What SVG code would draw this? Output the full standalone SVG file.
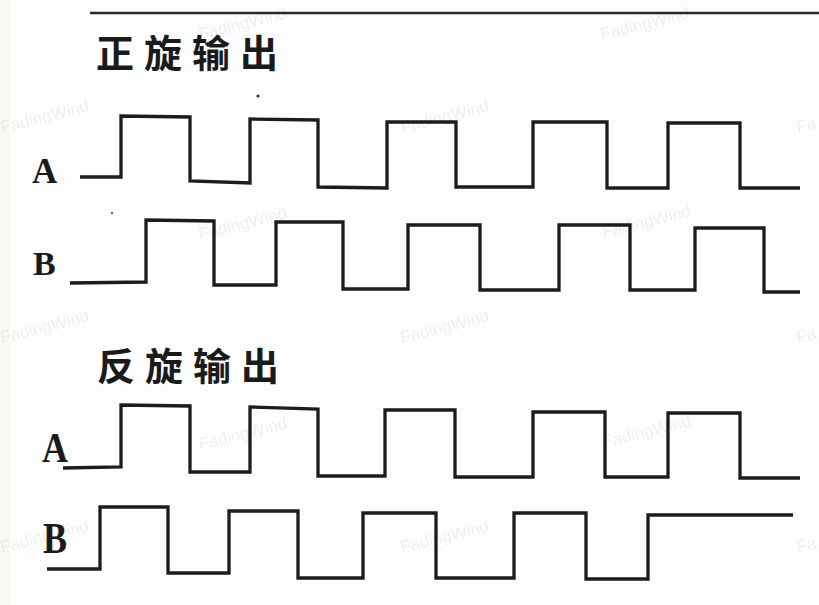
<svg xmlns="http://www.w3.org/2000/svg" width="819" height="605" viewBox="0 0 819 605">
<style>
.wave{fill:none;stroke:#1c1c1c;stroke-width:3.3;stroke-linejoin:miter;stroke-linecap:butt}
.title{font-family:"Noto Sans CJK SC","Noto Sans CJK JP",sans-serif;font-weight:700;font-size:38px;letter-spacing:10px;fill:#1a1a1a}
.lbl{font-family:"Liberation Serif",serif;font-weight:700;fill:#1a1a1a}
.wm{font-family:"Liberation Sans",sans-serif;font-size:17px;fill:#000;fill-opacity:0.07}
</style>
<rect x="0" y="0" width="819" height="605" fill="#fdfdfd"/>
<rect x="0" y="0" width="10" height="605" fill="#faf8f3"/>
<line x1="90" y1="13" x2="819" y2="13" stroke="#2a2a2a" stroke-width="2.6"/>

<g id="title-forward"><text class="title" x="96" y="67">正旋输出</text></g>
<g id="title-reverse"><text class="title" x="97" y="380">反旋输出</text></g>

<g id="forward-A">
<text class="lbl" x="32" y="183" font-size="35">A</text>
<polyline class="wave" points="80,177 121,177 121,116 190,117 190,181 250,183 250,119 318,120 318,187 387,188 387,122 456,122 456,187 533,187 533,122 607,122 607,188 668,188 668,123 740,123 740,188 800,188"/>
</g>
<g id="forward-B">
<text class="lbl" x="33" y="275" font-size="34">B</text>
<polyline class="wave" points="70,283 146,282 146,220 214,221 214,285 276,285 276,222 343,222 343,289 408,289 408,225 480,225 480,290 559,290 559,225 630,225 630,290 695,290 695,228 764,228 764,292 800,292"/>
</g>
<g id="reverse-A">
<text class="lbl" x="42" y="462" font-size="43" textLength="26" lengthAdjust="spacingAndGlyphs">A</text>
<polyline class="wave" points="63,468 121,467 121,405 190,406 190,472 250,472 250,407 318,409 318,476 385,476 385,410 455,410 455,477 533,477 533,412 605,412 605,477 668,477 668,413 740,413 740,478 800,478"/>
</g>
<g id="reverse-B">
<text class="lbl" x="43" y="553" font-size="45" textLength="24" lengthAdjust="spacingAndGlyphs">B</text>
<polyline class="wave" points="47,569 100,569 100,507 168,507 168,573 229,573 229,511 298,511 298,578 363,578 363,513 436,513 436,578 514,578 514,513 586,513 586,579 648,579 648,515 793,515"/>
</g>

<circle cx="258" cy="96" r="1.6" fill="#333"/>
<circle cx="112" cy="213" r="1.2" fill="#666"/>

<g id="watermarks">
<text class="wm" x="200" y="40" transform="rotate(-14 200 40)">FadingWind</text>
<text class="wm" x="602" y="40" transform="rotate(-14 602 40)">FadingWind</text>
<text class="wm" x="2" y="133" transform="rotate(-14 2 133)">FadingWind</text>
<text class="wm" x="402" y="133" transform="rotate(-14 402 133)">FadingWind</text>
<text class="wm" x="798" y="133" transform="rotate(-14 798 133)">Fa</text>
<text class="wm" x="200" y="240" transform="rotate(-14 200 240)">FadingWind</text>
<text class="wm" x="604" y="238" transform="rotate(-14 604 238)">FadingWind</text>
<text class="wm" x="2" y="343" transform="rotate(-14 2 343)">FadingWind</text>
<text class="wm" x="402" y="343" transform="rotate(-14 402 343)">FadingWind</text>
<text class="wm" x="798" y="343" transform="rotate(-14 798 343)">Fa</text>
<text class="wm" x="200" y="450" transform="rotate(-14 200 450)">FadingWind</text>
<text class="wm" x="604" y="448" transform="rotate(-14 604 448)">FadingWind</text>
<text class="wm" x="2" y="553" transform="rotate(-14 2 553)">FadingWind</text>
<text class="wm" x="402" y="553" transform="rotate(-14 402 553)">FadingWind</text>
<text class="wm" x="798" y="553" transform="rotate(-14 798 553)">Fa</text>
</g>
</svg>
